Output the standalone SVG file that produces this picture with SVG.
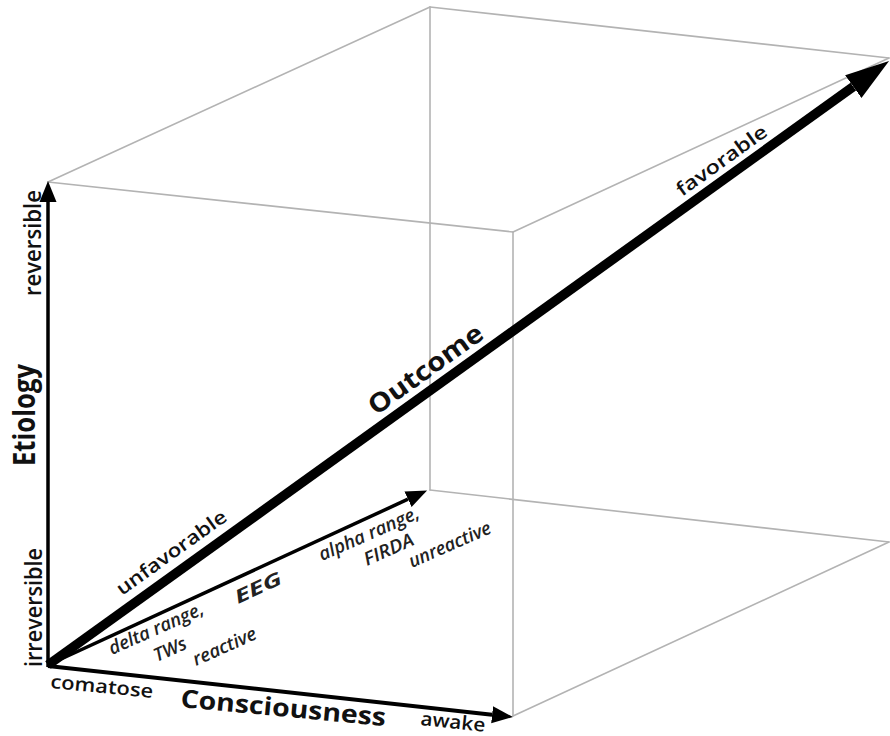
<svg xmlns="http://www.w3.org/2000/svg" width="890" height="736" viewBox="0 0 890 736">
<style>
.box{stroke:#b3b3b3;stroke-width:1.6;fill:none;stroke-linecap:round}
.ax{stroke:#000;fill:none}
text{font-family:"Open Sans","Liberation Sans",sans-serif;fill:#111}
.lbl{font-size:19px;font-weight:600}
.it{font-size:18.5px;font-style:italic;font-weight:600;fill:#222}
.b{font-weight:bold}
</style>
<defs>
<marker id="hLg" markerUnits="userSpaceOnUse" viewBox="0 -15 45 30" markerWidth="45" markerHeight="30" refX="0" refY="0" orient="auto"><path d="M0,-14 L44,0 L0,14 Z" fill="#000"/></marker>
<marker id="hSm" markerUnits="userSpaceOnUse" viewBox="0 -10 22 20" markerWidth="22" markerHeight="20" refX="0" refY="0" orient="auto"><path d="M0,-8.5 L21,0 L0,8.5 Z" fill="#000"/></marker>
</defs>
<rect width="890" height="736" fill="#fff"/>
<g id="box">
<line class="box" x1="48" y1="182" x2="430" y2="7"/>
<line class="box" x1="430" y1="7" x2="889" y2="58"/>
<line class="box" x1="48" y1="182" x2="513" y2="232"/>
<line class="box" x1="513" y1="232" x2="889" y2="58"/>
<line class="box" x1="513" y1="232" x2="513" y2="716"/>
<line class="box" x1="430" y1="7" x2="430" y2="490"/>
<line class="box" x1="430" y1="490" x2="889" y2="542"/>
<line class="box" x1="513" y1="716" x2="889" y2="542"/>
</g>
<g id="connectors">
<line class="ax" x1="48" y1="667" x2="48" y2="202" stroke-width="3.5" marker-end="url(#hSm)"/>
<line class="ax" x1="48" y1="666" x2="492.1" y2="714.7" stroke-width="4" marker-end="url(#hSm)"/>
<line class="ax" x1="48" y1="665" x2="408" y2="499.2" stroke-width="3.5" marker-end="url(#hSm)"/>
<line class="ax" x1="48" y1="665" x2="853.3" y2="86.6" stroke-width="9.5" marker-end="url(#hLg)"/>
</g>
<g id="etiology">
<text class="lbl" font-size="22" transform="translate(41,296) rotate(-90) scale(1,1.2)" textLength="106" lengthAdjust="spacingAndGlyphs">reversible</text>
<text class="b" font-size="26" transform="translate(35,466) rotate(-90) scale(1,1.15)" textLength="102" lengthAdjust="spacingAndGlyphs">Etiology</text>
<text class="lbl" font-size="22" transform="translate(42,667) rotate(-90) scale(1,1.2)" textLength="119" lengthAdjust="spacingAndGlyphs">irreversible</text>
</g>
<g id="consciousness">
<text class="lbl" transform="translate(50,688) rotate(5.5)" textLength="103" lengthAdjust="spacingAndGlyphs">comatose</text>
<text class="b" font-size="25" transform="translate(180,707) rotate(5.3)" textLength="206" lengthAdjust="spacingAndGlyphs">Consciousness</text>
<text class="lbl" transform="translate(420,725) rotate(6)" textLength="65" lengthAdjust="spacingAndGlyphs">awake</text>
</g>
<g id="outcome">
<text class="lbl" font-size="21" transform="translate(122,596) rotate(-35.66)" textLength="131" lengthAdjust="spacingAndGlyphs">unfavorable</text>
<text class="b" font-size="26" transform="translate(376,416) rotate(-35.66)" textLength="135" lengthAdjust="spacingAndGlyphs">Outcome</text>
<text class="lbl" font-size="21" transform="translate(682,197) rotate(-35.66)" textLength="107" lengthAdjust="spacingAndGlyphs">favorable</text>
</g>
<g id="eeg">
<text class="b it" font-size="24" transform="translate(238,604) rotate(-24.7)" textLength="50" lengthAdjust="spacingAndGlyphs">EEG</text>
<text class="it" transform="translate(112,655) rotate(-24)" textLength="102" lengthAdjust="spacingAndGlyphs">delta range,</text>
<text class="it" transform="translate(157,662) rotate(-24)" textLength="34" lengthAdjust="spacingAndGlyphs">TWs</text>
<text class="it" transform="translate(196,666) rotate(-24)" textLength="68" lengthAdjust="spacingAndGlyphs">reactive</text>
<text class="it" transform="translate(322,561) rotate(-23.7)" textLength="108" lengthAdjust="spacingAndGlyphs">alpha range,</text>
<text class="it" transform="translate(367,566) rotate(-24)" textLength="53" lengthAdjust="spacingAndGlyphs">FIRDA</text>
<text class="it" transform="translate(412,568) rotate(-23.7)" textLength="88" lengthAdjust="spacingAndGlyphs">unreactive</text>
</g>
</svg>
